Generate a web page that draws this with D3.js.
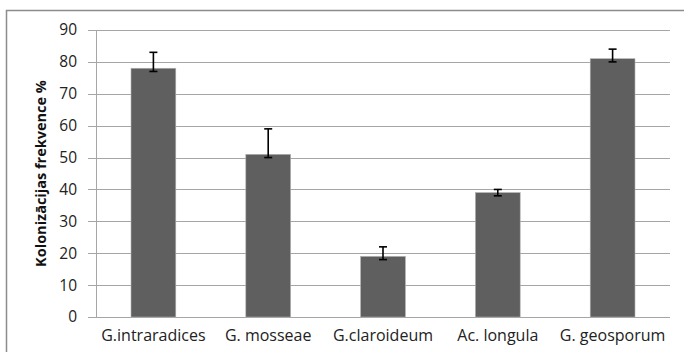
<!DOCTYPE html>
<html><head><meta charset="utf-8">
<script src="https://cdn.jsdelivr.net/npm/d3@7"></script>
<style>body{margin:0;background:#fff}svg{display:block}</style>
</head><body>
<svg id="c" width="684" height="352"></svg>
<script>
const categories = ["G.intraradices", "G. mosseae", "G.claroideum", "Ac. longula", "G. geosporum"];
const values = [78, 51, 19, 39, 81];
const errPlus = [5, 8, 3, 1, 3];
const errMinus = [1, 1, 1, 1, 1];
const yTicks = [0, 10, 20, 30, 40, 50, 60, 70, 80, 90];
const yLabel = "Kolonizācijas frekvence %";

const svg = d3.select("#c");
const font = "'Open Sans', 'Liberation Sans', sans-serif";
const m = {left: 96, right: 670, top: 30, bottom: 317};

svg.append("rect").attr("x", 6.5).attr("y", 10.5).attr("width", 684).attr("height", 360)
  .attr("fill", "none").attr("stroke", "#8c8c8c").attr("stroke-width", 1.5);

const x = d3.scaleBand().domain(categories).range([m.left, m.right]).paddingInner(0.61).paddingOuter(0.305);
const y = d3.scaleLinear().domain([0, 90]).range([m.bottom, m.top]);

// gridlines
svg.append("g").selectAll("line").data(yTicks).join("line")
  .attr("x1", m.left - 8).attr("x2", m.right)
  .attr("y1", d => Math.round(y(d)) + 0.5).attr("y2", d => Math.round(y(d)) + 0.5)
  .attr("stroke", "#a6a6a6").attr("stroke-width", 1);

// y axis line
svg.append("line").attr("x1", m.left + 0.5).attr("x2", m.left + 0.5)
  .attr("y1", m.top).attr("y2", m.bottom).attr("stroke", "#a6a6a6");

const yAxis = d3.axisLeft(y).tickValues(yTicks).tickSize(0).tickPadding(19);
const ga = svg.append("g").attr("transform", `translate(${m.left},0)`).call(yAxis);
ga.select(".domain").remove();
ga.selectAll("text").attr("font-family", font).attr("font-size", 15.5).attr("fill", "#222");

// bars
svg.append("g").selectAll("rect").data(values).join("rect")
  .attr("x", (d, i) => x(categories[i]))
  .attr("width", x.bandwidth())
  .attr("y", d => y(d))
  .attr("height", d => y(0) - y(d))
  .attr("fill", "#5f5f5f").attr("stroke", "#b0b0b0").attr("stroke-width", 0.6);

// error bars
const eg = svg.append("g").attr("stroke", "#000").attr("stroke-width", 1.6);
values.forEach((v, i) => {
  const cx = x(categories[i]) + x.bandwidth() / 2;
  const yt = y(v + errPlus[i]), yb = y(v - errMinus[i]);
  eg.append("line").attr("x1", cx).attr("x2", cx).attr("y1", yt).attr("y2", yb);
  eg.append("line").attr("x1", cx - 4).attr("x2", cx + 4).attr("y1", yt).attr("y2", yt);
  eg.append("line").attr("x1", cx - 4).attr("x2", cx + 4).attr("y1", yb).attr("y2", yb);
});

// x labels
const xAxis = d3.axisBottom(x).tickSize(0).tickPadding(13);
const gx = svg.append("g").attr("transform", `translate(0,${m.bottom})`).call(xAxis);
gx.select(".domain").remove();
gx.selectAll("text").attr("font-family", font).attr("font-size", 16).attr("fill", "#222");

// y label
svg.append("text").attr("transform", `translate(46,${(m.top + m.bottom) / 2}) rotate(-90)`)
  .attr("text-anchor", "middle").attr("font-family", font).attr("font-size", 14.5)
  .attr("font-weight", "bold").attr("fill", "#111").text(yLabel);
</script>
</body></html>
